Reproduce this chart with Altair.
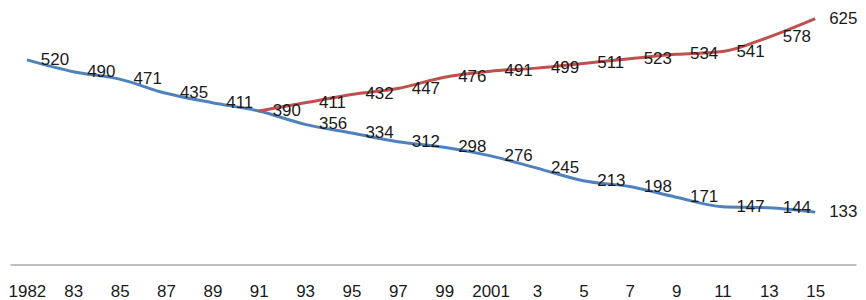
import altair as alt
import pandas as pd

years = ["1982", "83", "85", "87", "89", "91", "93", "95", "97", "99",
         "2001", "3", "5", "7", "9", "11", "13", "15"]
blue = [520, 490, 471, 435, 411, 390, 356, 334, 312, 298, 276, 245, 213, 198, 171, 147, 144, 133]
red_years = years[5:]
red = [390, 411, 432, 447, 476, 491, 499, 511, 523, 534, 541, 578, 625]

rows = [{"year": y, "value": v, "series": "A"} for y, v in zip(years, blue)]
rows += [{"year": y, "value": v, "series": "B"} for y, v in zip(red_years, red)]
df = pd.DataFrame(rows)
label_df = df[~((df.series == "B") & (df.year == "91"))]

FONT = "Liberation Sans"

x = alt.X(
    "year:N",
    sort=years,
    scale=alt.Scale(type="point", domain=years, padding=0.6225, align=0.293),
    axis=alt.Axis(
        title=None, labelAngle=0, ticks=False, grid=False,
        domainColor="#aaaaaa", domainWidth=1.5,
        labelFontSize=17, labelFont=FONT, labelColor="#1a1a1a",
        labelPadding=19, labelOverlap=False,
    ),
)
y = alt.Y("value:Q", scale=alt.Scale(domain=[0, 645], nice=False, zero=True), axis=None)
color = alt.Color("series:N", scale=alt.Scale(domain=["A", "B"], range=["#4F81BD", "#C0504D"]), legend=None)

line = alt.Chart(df).mark_line(strokeWidth=3, interpolate="monotone").encode(x=x, y=y, color=color)
text = alt.Chart(label_df).mark_text(
    align="left", baseline="middle", dx=14, fontSize=17, font=FONT, color="#1a1a1a"
).encode(x=x, y=y, text="value:Q")

chart = (
    alt.layer(line, text)
    .properties(width=850, height=255, padding={"left": 0, "top": 0, "right": 0, "bottom": 0})
    .configure_view(strokeWidth=0)
)

chart.save("out.html", embed_options={"renderer": "svg", "actions": False})
